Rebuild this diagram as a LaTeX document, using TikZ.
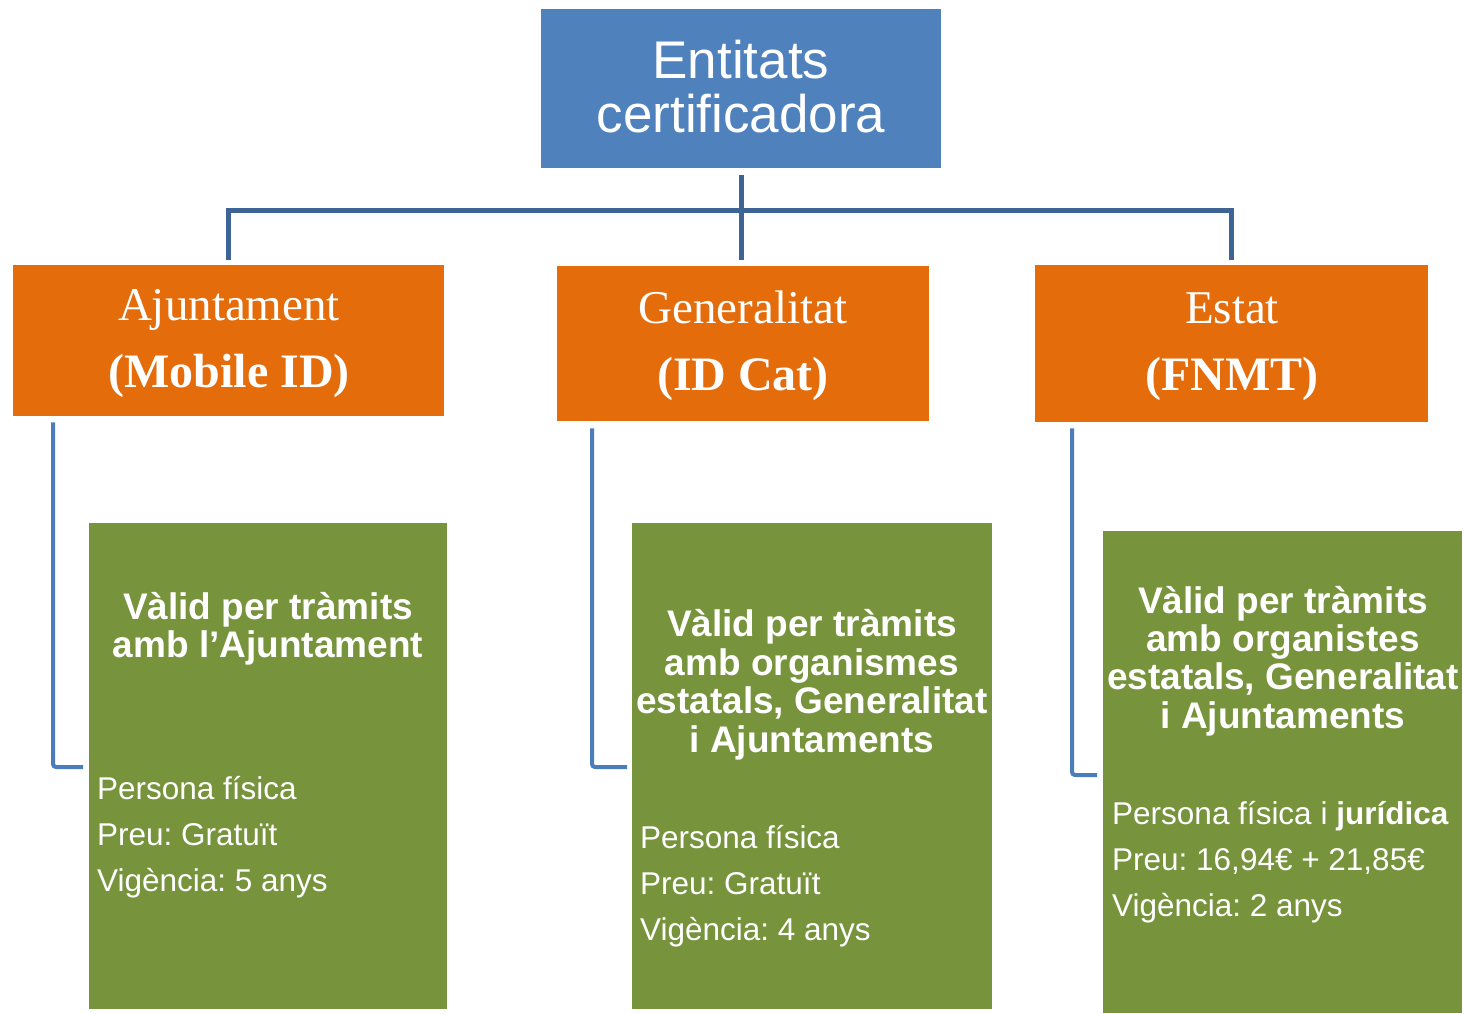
\documentclass[tikz,border=0pt]{standalone}
\usepackage{fontspec}
\setmainfont{Liberation Serif}
\newfontfamily\arialf{Liberation Sans}
\frenchspacing
\definecolor{rootblue}{RGB}{79,129,189}
\definecolor{orgbox}{RGB}{228,108,10}
\definecolor{grnbox}{RGB}{119,147,60}
\definecolor{busblue}{RGB}{62,100,150}
\definecolor{sideblue}{RGB}{74,126,187}
\tikzset{
  boxr/.style={rectangle, inner sep=0pt, anchor=north west, draw=none},
  rootbox/.style={boxr, fill=rootblue},
  orgbx/.style={boxr, fill=orgbox},
  grnbx/.style={boxr, fill=grnbox},
  roottxt/.style={anchor=base, inner sep=0pt, text=white, font=\arialf\fontsize{53}{58}\selectfont},
  orgtxt/.style={anchor=base, inner sep=0pt, text=white, font=\fontsize{47}{52}\selectfont},
  orgbold/.style={orgtxt, font=\bfseries\fontsize{48}{53}\selectfont},
  headtxt/.style={anchor=base, inner sep=0pt, text=white, font=\arialf\bfseries\fontsize{37}{40}\selectfont},
  bodytxt/.style={anchor=base west, inner sep=0pt, text=white, font=\arialf\fontsize{31.5}{36}\selectfont},
  bus/.style={draw=busblue, line width=5pt},
  side/.style={draw=sideblue, line width=4pt, rounded corners=3pt},
}
\begin{document}
\begin{tikzpicture}[x=1pt,y=-1pt]
\useasboundingbox (0,0) rectangle (1465,1013);
% boxes
\node[rootbox, minimum width=400pt, minimum height=159pt] (root) at (541,9) {};
\node[orgbx, minimum width=431pt, minimum height=151pt] (aj) at (13,265) {};
\node[orgbx, minimum width=372pt, minimum height=155pt] (gen) at (557,266) {};
\node[orgbx, minimum width=393pt, minimum height=157pt] (est) at (1035,265) {};
\node[grnbx, minimum width=358pt, minimum height=486pt] (gl) at (89,523) {};
\node[grnbx, minimum width=360pt, minimum height=486pt] (gm) at (632,523) {};
\node[grnbx, minimum width=359pt, minimum height=482pt] (gr) at (1103,531) {};
% connectors
\coordinate (bus) at (741,210);
\draw[bus] ([yshift=-7pt]root.south) -- ([yshift=6pt]root.south |- gen.north);
\draw[bus] ([yshift=5pt]aj.north) -- (aj.north |- bus) -- (est.north |- bus) -- ([yshift=5pt]est.north);
\draw[side] ([xshift=40pt,yshift=-6pt]aj.south west) |- ([xshift=-6pt,yshift=-244pt]gl.north west);
\draw[side] ([xshift=35pt,yshift=-7pt]gen.south west) |- ([xshift=-5pt,yshift=-244pt]gm.north west);
\draw[side] ([xshift=37pt,yshift=-6pt]est.south west) |- ([xshift=-6pt,yshift=-244pt]gr.north west);
% root text
\node[roottxt] (r1) at (741,78) {Entitats};
\node[roottxt] (r2) at (741,132) {certificadora};
% orange texts
\node[orgtxt] (a1) at (229,320) {Ajuntament};
\node[orgbold] (a2) at (229,387) {(Mobile ID)};
\node[orgtxt] (g1) at (743,323) {Generalitat};
\node[orgbold] (g2) at (743,390) {(ID Cat)};
\node[orgtxt] (e1) at (1232,323) {Estat};
\node[orgbold] (e2) at (1232,390) {(FNMT)};
% left green
\node[headtxt] (lh1) at (268,619) {Vàlid per tràmits};
\node[headtxt] (lh2) at (268,657) {amb l’Ajuntament};
\node[bodytxt] (lb1) at (97,799) {Persona física};
\node[bodytxt] (lb2) at (97,845) {Preu: Gratuït};
\node[bodytxt] (lb3) at (97,891) {Vigència: 5 anys};
% middle green
\node[headtxt] (mh1) at (812,636) {Vàlid per tràmits};
\node[headtxt] (mh2) at (812,675) {amb organismes};
\node[headtxt] (mh3) at (812,713) {estatals, Generalitat};
\node[headtxt] (mh4) at (812,752) {i Ajuntaments};
\node[bodytxt] (mb1) at (640,848) {Persona física};
\node[bodytxt] (mb2) at (640,894) {Preu: Gratuït};
\node[bodytxt] (mb3) at (640,940) {Vigència: 4 anys};
% right green
\node[headtxt] (rh1) at (1283,613) {Vàlid per tràmits};
\node[headtxt] (rh2) at (1283,651) {amb organistes};
\node[headtxt] (rh3) at (1283,689) {estatals, Generalitat};
\node[headtxt] (rh4) at (1283,728) {i Ajuntaments};
\node[bodytxt] (rb1) at (1112,824) {Persona física i \textbf{jurídica}};
\node[bodytxt] (rb2) at (1112,870) {Preu: 16,94€ + 21,85€};
\node[bodytxt] (rb3) at (1112,916) {Vigència: 2 anys};
\end{tikzpicture}
\end{document}
